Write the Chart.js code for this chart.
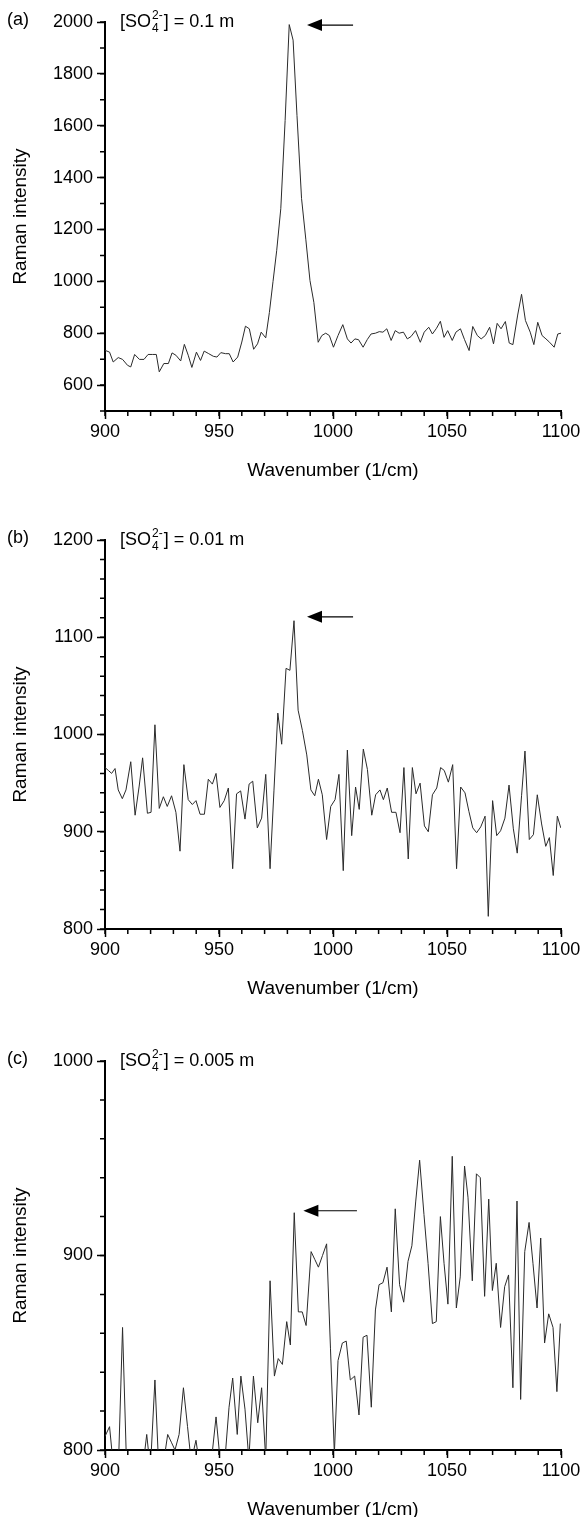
<!DOCTYPE html>
<html>
<head>
<meta charset="utf-8">
<script src="https://cdn.jsdelivr.net/npm/chart.js@4.4.1/dist/chart.umd.min.js"></script>
<style>
html,body{margin:0;padding:0;background:#fff;overflow:hidden;width:586px;height:1517px;}
.panel{position:absolute;left:0;width:586px;height:518px;}
canvas{display:block;}
</style>
</head>
<body>
<div class="panel" style="top:0px"><canvas id="cA" width="586" height="518"></canvas></div>
<div class="panel" style="top:518px"><canvas id="cB" width="586" height="518"></canvas></div>
<div class="panel" style="top:1039px"><canvas id="cC" width="586" height="518"></canvas></div>
<script>
// ---------- data ----------
const xTickValues = [900, 950, 1000, 1050, 1100];
const yTicksA = [600, 800, 1000, 1200, 1400, 1600, 1800, 2000];
const yTicksB = [800, 900, 1000, 1100, 1200];
const yTicksC = [800, 900, 1000];
const panelLabels = ['(a)', '(b)', '(c)'];
const concentrations = ['0.1 m', '0.01 m', '0.005 m'];

const wavenumberA = [900.0, 902.0, 903.6, 905.8, 907.7, 909.9, 911.3, 913.0, 915.1, 917.1, 918.9, 920.9, 922.5, 923.8, 925.8, 927.8, 929.4, 931.1, 933.2, 934.8, 936.5, 938.1, 940.1, 941.9, 943.5, 945.5, 947.5, 949.1, 950.8, 952.9, 954.5, 956.2, 958.2, 960.0, 961.6, 963.3, 965.2, 966.9, 968.5, 970.5, 972.1, 973.7, 975.3, 977.1, 979.0, 980.8, 982.5, 984.2, 986.2, 988.1, 989.9, 991.6, 993.5, 995.1, 996.8, 998.4, 1000.2, 1002.2, 1004.3, 1006.3, 1007.9, 1009.6, 1011.2, 1013.2, 1015.0, 1016.7, 1018.6, 1020.3, 1021.9, 1023.6, 1025.5, 1027.3, 1029.0, 1030.9, 1032.6, 1034.2, 1036.2, 1038.3, 1040.0, 1042.0, 1043.6, 1045.4, 1047.1, 1048.7, 1050.3, 1052.3, 1053.9, 1055.9, 1057.7, 1059.7, 1061.3, 1063.3, 1065.0, 1066.8, 1068.7, 1070.4, 1072.0, 1073.7, 1075.6, 1077.3, 1078.9, 1081.0, 1082.7, 1084.4, 1086.5, 1088.1, 1089.8, 1091.7, 1093.4, 1095.0, 1097.0, 1098.6, 1100.0];
const intensityA = [734, 727, 689, 706, 699, 676, 670, 718, 699, 699, 718, 718, 718, 651, 683, 683, 724, 715, 693, 757, 715, 668, 727, 695, 731, 721, 711, 708, 725, 721, 721, 689, 708, 766, 827, 817, 738, 759, 804, 782, 880, 1000, 1118, 1280, 1620, 1990, 1930, 1640, 1320, 1160, 1003, 919, 765, 791, 800, 791, 746, 791, 833, 778, 762, 778, 775, 746, 775, 797, 800, 806, 804, 817, 772, 810, 800, 804, 778, 787, 810, 765, 804, 823, 797, 819, 846, 784, 810, 772, 804, 817, 775, 733, 826, 791, 778, 791, 823, 759, 838, 817, 845, 762, 756, 870, 950, 849, 804, 756, 842, 791, 778, 765, 746, 797, 800];

const wavenumberB = [900.0, 901.5, 902.9, 904.4, 905.8, 907.6, 909.2, 911.3, 913.2, 915.0, 916.5, 918.6, 920.2, 921.9, 923.8, 925.6, 927.3, 929.2, 931.1, 932.9, 934.6, 936.5, 938.3, 939.9, 941.7, 943.6, 945.3, 947.1, 948.7, 950.4, 952.3, 954.1, 956.0, 957.7, 959.5, 961.4, 963.2, 964.8, 966.8, 968.7, 970.5, 972.4, 974.1, 975.8, 977.5, 979.4, 981.1, 982.9, 984.7, 986.6, 988.5, 990.3, 992.0, 993.6, 995.3, 997.2, 999.0, 1000.9, 1002.6, 1004.5, 1006.3, 1008.2, 1009.9, 1011.5, 1013.3, 1015.1, 1017.0, 1018.7, 1020.6, 1022.1, 1023.8, 1025.7, 1027.6, 1029.4, 1031.1, 1033.0, 1034.8, 1036.4, 1038.2, 1040.1, 1041.8, 1043.6, 1045.5, 1047.2, 1048.8, 1050.6, 1052.5, 1054.2, 1056.0, 1057.9, 1059.6, 1061.3, 1063.0, 1064.8, 1066.7, 1068.1, 1070.0, 1071.8, 1073.5, 1075.4, 1077.2, 1079.1, 1080.8, 1082.7, 1084.2, 1086.1, 1087.9, 1089.6, 1091.5, 1093.3, 1094.9, 1096.6, 1098.4, 1099.9];
const intensityB = [966, 963, 960, 965, 943, 934, 943, 972, 917, 947, 976, 919, 920, 1010, 924, 936, 926, 937, 920, 880, 969, 933, 928, 932, 918, 918, 954, 949, 960, 925, 932, 945, 862, 939, 942, 913, 949, 952, 904, 914, 959, 862, 942, 1022, 990, 1068, 1066, 1117, 1025, 1004, 979, 943, 937, 954, 938, 892, 926, 933, 959, 860, 984, 896, 946, 923, 985, 964, 917, 938, 943, 933, 945, 920, 920, 899, 966, 872, 966, 939, 950, 906, 900, 938, 945, 966, 963, 951, 969, 862, 946, 940, 921, 904, 899, 905, 916, 813, 932, 896, 901, 914, 948, 903, 878, 937, 983, 892, 897, 938, 908, 885, 894, 855, 916, 904];

const wavenumberC = [900.0, 902.0, 903.8, 905.8, 907.7, 909.5, 911.3, 913.0, 914.8, 916.5, 918.3, 919.9, 921.9, 923.6, 925.5, 927.5, 929.1, 930.7, 932.5, 934.4, 936.2, 937.8, 939.9, 941.5, 943.3, 945.0, 946.8, 948.7, 950.4, 952.4, 954.4, 956.0, 958.0, 959.6, 961.4, 963.1, 965.1, 967.0, 968.7, 970.5, 972.4, 974.3, 976.0, 977.8, 979.7, 981.3, 983.0, 984.8, 986.5, 988.2, 990.4, 992.0, 993.6, 995.4, 997.2, 998.9, 1000.6, 1002.2, 1004.1, 1005.8, 1007.6, 1009.5, 1011.4, 1013.2, 1014.9, 1016.8, 1018.6, 1020.2, 1021.9, 1023.7, 1025.6, 1027.3, 1029.2, 1031.0, 1032.9, 1034.6, 1036.3, 1038.0, 1039.9, 1041.7, 1043.6, 1045.3, 1047.1, 1048.7, 1050.4, 1052.3, 1054.1, 1055.8, 1057.7, 1059.2, 1061.1, 1062.9, 1064.6, 1066.5, 1068.3, 1069.9, 1071.6, 1073.5, 1075.3, 1077.0, 1078.9, 1080.7, 1082.3, 1084.1, 1086.0, 1087.7, 1089.5, 1091.1, 1092.8, 1094.6, 1096.5, 1098.2, 1099.7];
const intensityC = [807, 812, 790, 788, 863, 790, 785, 785, 785, 790, 808, 790, 836, 790, 792, 808, 804, 800, 808, 832, 812, 794, 805, 792, 788, 790, 796, 817, 796, 792, 822, 837, 808, 838, 821, 795, 838, 814, 832, 795, 887, 838, 847, 844, 866, 854, 922, 871, 871, 864, 902, 898, 894, 900, 906, 852, 798, 846, 855, 856, 836, 838, 818, 858, 859, 822, 872, 885, 886, 894, 871, 924, 885, 876, 897, 905, 928, 949, 921, 896, 865, 866, 920, 896, 875, 951, 873, 889, 946, 930, 887, 942, 940, 879, 929, 882, 896, 863, 884, 890, 832, 928, 826, 902, 917, 896, 873, 909, 855, 870, 863, 830, 865];

// ---------- drawing ----------
const FONT = '"Liberation Sans", Arial, Helvetica, sans-serif';
Chart.defaults.font.family = FONT;
Chart.defaults.color = '#000';

const decor = {
  id: 'decor',
  afterDraw(chart, args, o) {
    const {ctx, chartArea: ca, scales: {x, y}} = chart;
    ctx.save();
    ctx.strokeStyle = '#000';
    ctx.fillStyle = '#000';
    ctx.lineWidth = 1.5;
    ctx.beginPath();
    for (let v = x.min; v <= x.max + 1e-6; v += o.xMinor) {
      const p = x.getPixelForValue(v);
      ctx.moveTo(p, ca.bottom);
      ctx.lineTo(p, ca.bottom + o.minorLen);
    }
    for (let v = y.min; v <= y.max + 1e-6; v += o.yMinor) {
      const p = y.getPixelForValue(v);
      ctx.moveTo(ca.left - o.minorLen, p);
      ctx.lineTo(ca.left, p);
    }
    ctx.stroke();

    // panel letter
    ctx.textBaseline = 'middle';
    ctx.textAlign = 'left';
    ctx.font = '18px ' + FONT;
    ctx.fillText(o.label, 7, ca.top - 2);

    // concentration label  [SO4 2-] = c
    let tx = ca.left + 15;
    const ty = ca.top;
    ctx.fillText('[SO', tx, ty);
    tx += ctx.measureText('[SO').width;
    ctx.font = '12px ' + FONT;
    ctx.fillText('2-', tx + 1, ty - 6);
    ctx.fillText('4', tx + 1, ty + 7);
    tx += ctx.measureText('2-').width + 2;
    ctx.font = '18px ' + FONT;
    ctx.fillText('] = ' + o.conc, tx, ty);

    // peak arrow
    const tip = x.getPixelForValue(o.arrow.tip);
    const tail = x.getPixelForValue(o.arrow.tail);
    const ay = y.getPixelForValue(o.arrow.y);
    ctx.lineWidth = 1.2;
    ctx.beginPath();
    ctx.moveTo(tip + 12, ay);
    ctx.lineTo(tail, ay);
    ctx.stroke();
    ctx.beginPath();
    ctx.moveTo(tip, ay);
    ctx.lineTo(tip + 15, ay - 6);
    ctx.lineTo(tip + 15, ay + 6);
    ctx.closePath();
    ctx.fill();
    ctx.restore();
  }
};

function makePanel(id, xs, ys, yMin, yMax, yTicks, yMinor, label, conc, arrow) {
  const data = xs.map((v, i) => ({x: v, y: ys[i]}));
  return new Chart(document.getElementById(id), {
    type: 'line',
    data: {datasets: [{data, borderColor: '#2a2a2a', borderWidth: 1, pointRadius: 0, tension: 0, fill: false}]},
    plugins: [decor],
    options: {
      responsive: false,
      animation: false,
      devicePixelRatio: 1,
      layout: {padding: {top: 22, right: 25, left: 0, bottom: 0}},
      plugins: {
        legend: {display: false},
        tooltip: {enabled: false},
        decor: {xMinor: 10, yMinor, minorLen: 5, label, conc, arrow}
      },
      scales: {
        x: {
          type: 'linear', min: 900, max: 1100,
          afterFit(s) { s.height = 107; },
          afterBuildTicks(s) { s.ticks = xTickValues.map(v => ({value: v})); },
          border: {display: true, color: '#000', width: 2},
          grid: {display: true, drawOnChartArea: false, drawTicks: true, tickLength: 8, tickWidth: 1.5, tickColor: '#000'},
          ticks: {font: {size: 18}, color: '#000', padding: 2, maxRotation: 0, autoSkip: false, callback: v => String(v)},
          title: {display: true, text: 'Wavenumber (1/cm)', font: {size: 19}, color: '#000', padding: {top: 0, bottom: 36}}
        },
        y: {
          type: 'linear', min: yMin, max: yMax,
          afterFit(s) { s.width = 105; },
          afterBuildTicks(s) { s.ticks = yTicks.map(v => ({value: v})); },
          border: {display: true, color: '#000', width: 2},
          grid: {display: true, drawOnChartArea: false, drawTicks: true, tickLength: 8, tickWidth: 1.5, tickColor: '#000'},
          ticks: {font: {size: 18}, color: '#000', padding: 4, autoSkip: false, callback: v => String(v)},
          title: {display: true, text: 'Raman intensity', font: {size: 19}, color: '#000', padding: {top: 9, bottom: 0}}
        }
      }
    }
  });
}

makePanel('cA', wavenumberA, intensityA, 500, 2000, yTicksA, 100, panelLabels[0], concentrations[0], {tip: 988.6, tail: 1008.8, y: 1988});
makePanel('cB', wavenumberB, intensityB, 800, 1200, yTicksB, 20, panelLabels[1], concentrations[1], {tip: 988.6, tail: 1008.8, y: 1121});
makePanel('cC', wavenumberC, intensityC, 800, 1000, yTicksC, 20, panelLabels[2], concentrations[2], {tip: 987.0, tail: 1010.5, y: 923});
</script>
</body>
</html>
